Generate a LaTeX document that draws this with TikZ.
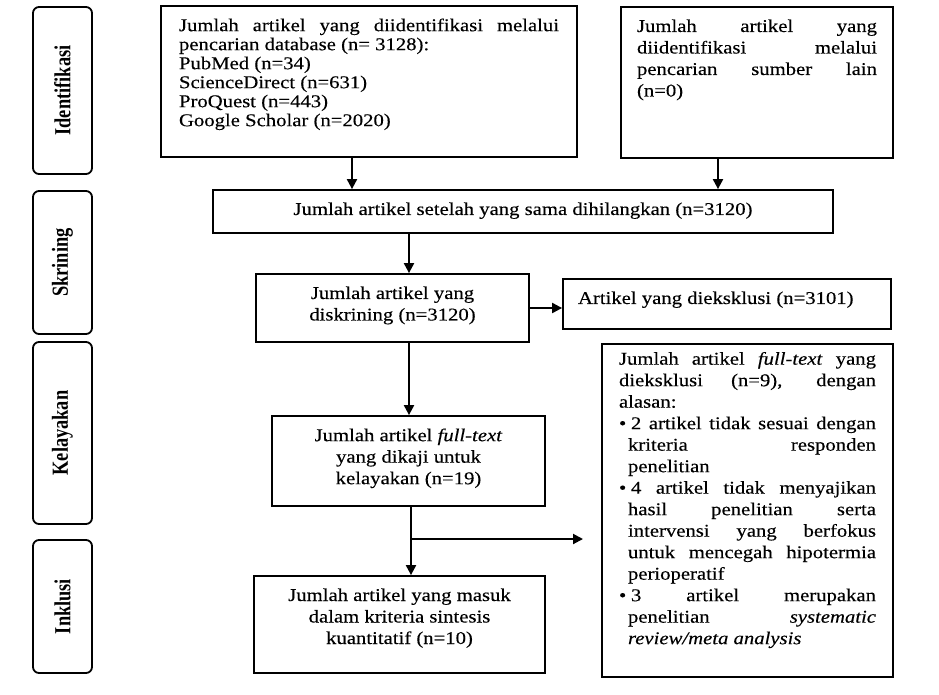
\documentclass[tikz,border=0pt]{standalone}
\usepackage{fontspec}
\setmainfont[FakeStretch=1.15,FakeBold=0.3]{Liberation Serif}
\newfontfamily\sidefont[FakeStretch=0.8]{Liberation Serif}
\usetikzlibrary{arrows.meta}
\newcommand{\topbox}[3]{\parbox[c][#1][t]{#2}{#3}}
\newcommand{\itm}{\par\hangindent=9pt\hangafter=1\makebox[12pt][l]{\textbullet}}

\begin{document}
\begin{tikzpicture}[x=1pt,y=-1pt,
  box/.style={draw,line width=1.8pt,inner xsep=10pt,inner ysep=12.5pt,font=\fontsize{18}{21.5}\selectfont},
  sidebox/.style={draw,line width=1.8pt,rounded corners=6pt,rotate=90,minimum height=59pt,inner sep=0pt,font=\sidefont\bfseries\fontsize{23}{23}\selectfont},
  arr/.style={line width=2pt,-{Triangle[length=10pt,width=10pt]}}]
\useasboundingbox (0,0) rectangle (939,694);
% stages
\node[sidebox,minimum width=167pt] (idf) at (62.5,90.5) {Identifikasi};
\node[sidebox,minimum width=143pt] (skr) at (62.5,262.5) {Skrining};
\node[sidebox,minimum width=182pt] (kel) at (62.5,433) {Kelayakan};
\node[sidebox,minimum width=133pt] (ink) at (62.5,606.5) {Inklusi};
% boxes
\node[box,inner xsep=18pt] (db) at (369,81.5) {\topbox{126pt}{380pt}{\fontsize{18}{19}\selectfont
  Jumlah artikel yang diidentifikasi melalui\linebreak pencarian database (n= 3128):\\
  PubMed (n=34)\\ ScienceDirect (n=631)\\ ProQuest (n=443)\\ Google Scholar (n=2020)}};
\node[box,inner xsep=16pt] (other) at (757,82.5) {\topbox{126pt}{240pt}{%
  Jumlah artikel yang\linebreak diidentifikasi melalui\linebreak pencarian sumber lain\linebreak (n=0)}};
\node[box,inner xsep=16pt] (dedup) at (523,211.5) {\topbox{18pt}{588pt}{\centering
  Jumlah artikel setelah yang sama dihilangkan (n=3120)}};
\node[box] (screen) at (392.5,308) {\topbox{43pt}{253pt}{\centering
  Jumlah artikel yang\\ diskrining (n=3120)}};
\node[box,inner xsep=15pt] (excl) at (727,304) {\topbox{25pt}{298pt}{\raggedright
  Artikel yang dieksklusi (n=3101)}};
\node[box] (full) at (408.5,461) {\topbox{65pt}{253pt}{\centering
  Jumlah artikel \textit{full-text}\\ yang dikaji untuk\\ kelayakan (n=19)}};
\node[box] (incl) at (399.5,624.5) {\topbox{72pt}{271pt}{\centering
  Jumlah artikel yang masuk\\ dalam kriteria sintesis\\ kuantitatif (n=10)}};
\node[box,inner xsep=17pt,inner ysep=8pt] (ftexcl) at (747.5,510.5) {\topbox{317pt}{257pt}{%
  Jumlah artikel \textit{full-text} yang\linebreak dieksklusi (n=9), dengan\linebreak alasan:
  \itm 2 artikel tidak sesuai dengan\linebreak kriteria responden\linebreak penelitian
  \itm 4 artikel tidak menyajikan\linebreak hasil penelitian serta\linebreak intervensi yang berfokus\linebreak untuk mencegah hipotermia\linebreak perioperatif
  \itm 3 artikel merupakan\linebreak penelitian \textit{systematic}\linebreak \textit{review/meta analysis}}};
% arrows
\coordinate (ca) at (352,0);
\coordinate (cb) at (718,0);
\coordinate (cc) at (409,0);
\coordinate (cd) at (411,0);
\coordinate (fork) at (411,539);
\coordinate (fend) at (583,539);
\draw[arr] (db.south -| ca) -- (dedup.north -| ca);
\draw[arr] (other.south -| cb) -- (dedup.north -| cb);
\draw[arr] (dedup.south -| cc) -- (screen.north -| cc);
\draw[arr] (screen.east) -- (screen.east -| excl.west);
\draw[arr] (screen.south -| cc) -- (full.north -| cc);
\draw[arr] (full.south -| cd) -- (incl.north -| cd);
\draw[arr] (fork) -- (fend);
\end{tikzpicture}
\end{document}
